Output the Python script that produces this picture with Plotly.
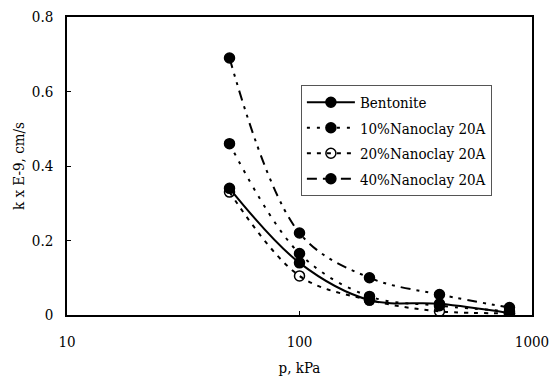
import plotly.graph_objects as go

pressure = [50, 100, 200, 400, 800]
series_names = ["Bentonite", "10%Nanoclay 20A", "20%Nanoclay 20A", "40%Nanoclay 20A"]
bentonite = [0.34, 0.14, 0.04, 0.03, 0.005]
nano10 = [0.46, 0.165, 0.05, 0.025, 0.01]
nano20 = [0.33, 0.105, 0.04, 0.01, 0.005]
nano40 = [0.69, 0.22, 0.10, 0.055, 0.02]
x_ticks = [10, 100, 1000]
y_ticks = [0, 0.2, 0.4, 0.6, 0.8]

FONT = "DejaVu Serif Condensed, DejaVu Serif"

styles = [
    dict(dash="solid", symbol="circle"),
    dict(dash="3px,7px", symbol="circle"),
    dict(dash="4px,6px", symbol="circle-open"),
    dict(dash="10px,6px,3px,6px,3px,6px", symbol="circle"),
]

fig = go.Figure()
for name, vals, st in zip(series_names, [bentonite, nano10, nano20, nano40], styles):
    fig.add_trace(go.Scatter(
        x=pressure, y=vals, name=name, mode="lines+markers",
        line=dict(color="black", width=2, dash=st["dash"], shape="spline", smoothing=1),
        marker=dict(symbol=st["symbol"], size=10, color="black",
                    line=dict(color="black", width=1.5)),
        legendgroup=name,
    ))

fig.update_layout(
    width=550, height=380,
    margin=dict(l=67, r=18, t=17, b=65),
    paper_bgcolor="white", plot_bgcolor="white",
    font=dict(family=FONT, size=15, color="black"),
    showlegend=True,
    legend=dict(x=0.503, y=0.772, xanchor="left", yanchor="top",
                bgcolor="white", bordercolor="#555", borderwidth=1,
                font=dict(family=FONT, size=15, color="black"),
                tracegroupgap=3, itemwidth=48),
    xaxis=dict(type="log", range=[1, 3], tickvals=x_ticks,
               ticktext=[str(v) for v in x_ticks],
               ticks="inside", ticklen=4, tickcolor="black",
               showgrid=False, zeroline=False, automargin=False,
               showline=True, linecolor="black", linewidth=1.5, mirror=True,
               ticklabelstandoff=12, ticklabeloverflow="allow",
               title=dict(text="p, kPa", font=dict(family=FONT, size=15), standoff=13)),
    yaxis=dict(range=[0, 0.8], tickvals=y_ticks,
               ticktext=["0", "0.2", "0.4", "0.6", "0.8"],
               ticks="inside", ticklen=4, tickcolor="black",
               showgrid=False, zeroline=False, automargin=False,
               showline=True, linecolor="black", linewidth=1.5, mirror=True,
               ticklabelstandoff=9,
               title=dict(text="k x E-9, cm/s", font=dict(family=FONT, size=15), standoff=4)),
)

fig.write_html("out.html")
